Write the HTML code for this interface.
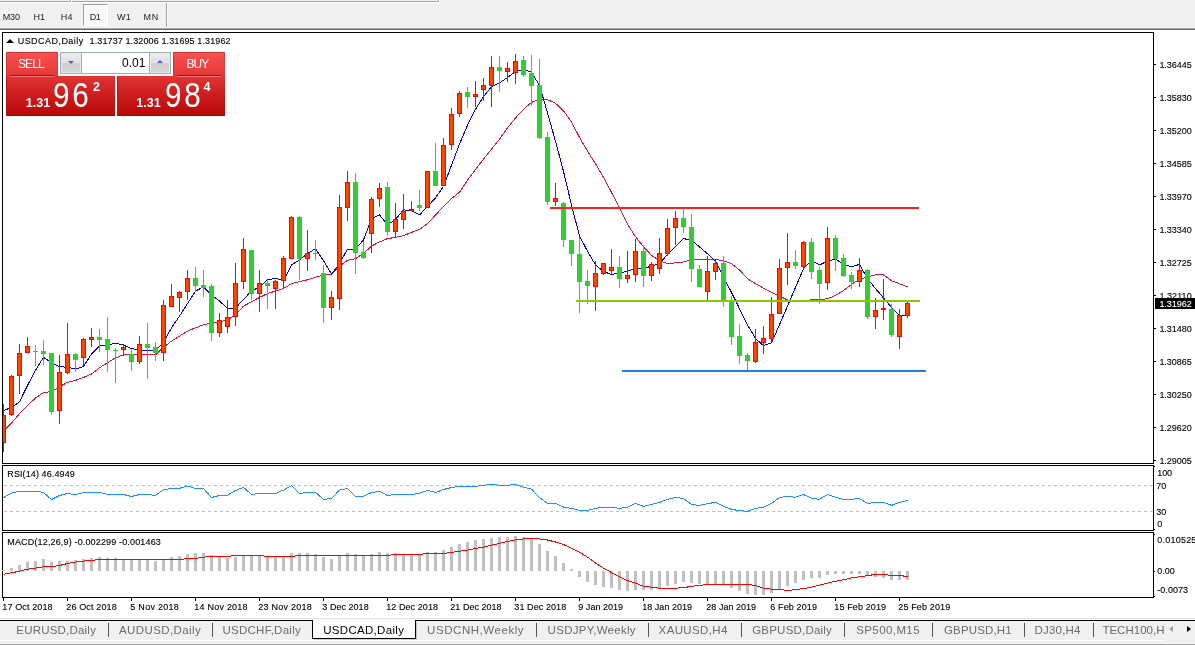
<!DOCTYPE html>
<html><head><meta charset="utf-8"><title>USDCAD,Daily</title>
<style>
html,body{margin:0;padding:0;background:#fff;}
body{width:1195px;height:645px;overflow:hidden;position:relative;font-family:"Liberation Sans",sans-serif;}
.abs{position:absolute;white-space:nowrap;line-height:1;}
#tb{position:absolute;left:0;top:0;width:1195px;height:28px;background:#f0f0f0;}
.t{position:absolute;white-space:nowrap;line-height:1;font-size:9px;color:#000;-webkit-text-stroke:0.12px #000;}
.tf{position:absolute;white-space:nowrap;line-height:1;font-size:9px;color:#222;}
.tab{position:absolute;white-space:nowrap;line-height:1;font-size:11.5px;color:#6a6a6a;}
.sep{position:absolute;width:1px;height:14px;top:623px;background:#555;}
svg{position:absolute;left:0;top:0;}
</style></head><body>
<div id="tb"></div>
<div class="abs" style="left:0;top:27px;width:1195px;height:1px;background:#f4f4f4"></div>
<div class="abs" style="left:0;top:28px;width:1195px;height:1px;background:#a8a8a8"></div>
<div class="abs" style="left:0;top:29px;width:1195px;height:1px;background:#696969"></div>
<div class="abs" style="left:0;top:1px;width:439px;height:1px;background:#a0a0a0"></div>
<div class="abs" style="left:0;top:2px;width:440px;height:1px;background:#fff"></div>
<div class="abs" style="left:438px;top:0;width:1px;height:2px;background:#a0a0a0"></div>
<div class="abs" style="left:439px;top:0;width:1px;height:3px;background:#fff"></div>
<div class="abs" style="left:70px;top:0;width:1px;height:2px;background:#a0a0a0"></div>
<div class="abs" style="left:71px;top:0;width:1px;height:2px;background:#fff"></div>
<div class="abs" style="left:83px;top:4px;width:25px;height:22px;background:#f8f8f8;border-left:1px solid #a0a0a0;border-top:1px solid #a0a0a0;border-right:1px solid #fff;border-bottom:1px solid #fff;box-sizing:border-box"></div>
<div class="abs" style="left:166px;top:3px;width:1px;height:24px;background:#a0a0a0"></div>
<div class="abs" style="left:167px;top:3px;width:1px;height:24px;background:#fff"></div>
<div class="tf" id="x1" style="left:2.7px;top:12.5px;letter-spacing:-0.086px;">M30</div>
<div class="tf" id="x2" style="left:33.6px;top:12.5px;letter-spacing:-0.144px;">H1</div>
<div class="tf" id="x3" style="left:60.7px;top:12.5px;letter-spacing:0.390px;">H4</div>
<div class="tf" id="x4" style="left:89.7px;top:12.5px;letter-spacing:-0.344px;">D1</div>
<div class="tf" id="x5" style="left:117px;top:12.5px;letter-spacing:0.333px;">W1</div>
<div class="tf" id="x6" style="left:143.5px;top:12.5px;letter-spacing:0.800px;">MN</div>
<svg width="1195" height="645" viewBox="0 0 1195 645" shape-rendering="crispEdges">
<rect x="2" y="32" width="1152" height="1" fill="#000"/>
<rect x="2" y="463" width="1152" height="1" fill="#000"/>
<rect x="2" y="32" width="1" height="432" fill="#000"/>
<rect x="1153" y="32" width="1" height="432" fill="#000"/>
<rect x="2" y="465" width="1152" height="1" fill="#000"/>
<rect x="2" y="530" width="1152" height="1" fill="#000"/>
<rect x="2" y="465" width="1" height="66" fill="#000"/>
<rect x="1153" y="465" width="1" height="66" fill="#000"/>
<rect x="2" y="532" width="1152" height="1" fill="#000"/>
<rect x="2" y="597" width="1152" height="1" fill="#000"/>
<rect x="2" y="532" width="1" height="66" fill="#000"/>
<rect x="1153" y="532" width="1" height="66" fill="#000"/>
<rect x="1154" y="64" width="2" height="1" fill="#000"/>
<rect x="1154" y="97" width="2" height="1" fill="#000"/>
<rect x="1154" y="130" width="2" height="1" fill="#000"/>
<rect x="1154" y="163" width="2" height="1" fill="#000"/>
<rect x="1154" y="196" width="2" height="1" fill="#000"/>
<rect x="1154" y="229" width="2" height="1" fill="#000"/>
<rect x="1154" y="262" width="2" height="1" fill="#000"/>
<rect x="1154" y="295" width="2" height="1" fill="#000"/>
<rect x="1154" y="328" width="2" height="1" fill="#000"/>
<rect x="1154" y="361" width="2" height="1" fill="#000"/>
<rect x="1154" y="394" width="2" height="1" fill="#000"/>
<rect x="1154" y="427" width="2" height="1" fill="#000"/>
<rect x="1154" y="460" width="2" height="1" fill="#000"/>
<rect x="1154" y="466" width="1" height="1" fill="#000"/>
<rect x="1154" y="529" width="1" height="1" fill="#000"/>
<rect x="1154" y="534" width="1" height="1" fill="#000"/>
<rect x="1154" y="571" width="1" height="1" fill="#000"/>
<rect x="1154" y="596" width="1" height="1" fill="#000"/>
<rect x="3" y="598" width="1" height="3" fill="#000"/>
<rect x="67" y="598" width="1" height="3" fill="#000"/>
<rect x="131" y="598" width="1" height="3" fill="#000"/>
<rect x="195" y="598" width="1" height="3" fill="#000"/>
<rect x="259" y="598" width="1" height="3" fill="#000"/>
<rect x="323" y="598" width="1" height="3" fill="#000"/>
<rect x="387" y="598" width="1" height="3" fill="#000"/>
<rect x="451" y="598" width="1" height="3" fill="#000"/>
<rect x="515" y="598" width="1" height="3" fill="#000"/>
<rect x="579" y="598" width="1" height="3" fill="#000"/>
<rect x="643" y="598" width="1" height="3" fill="#000"/>
<rect x="707" y="598" width="1" height="3" fill="#000"/>
<rect x="771" y="598" width="1" height="3" fill="#000"/>
<rect x="835" y="598" width="1" height="3" fill="#000"/>
<rect x="899" y="598" width="1" height="3" fill="#000"/>
<line x1="4" y1="485.5" x2="1153" y2="485.5" stroke="#c0c0c0" stroke-width="1" stroke-dasharray="3,3"/>
<line x1="4" y1="511.5" x2="1153" y2="511.5" stroke="#c0c0c0" stroke-width="1" stroke-dasharray="3,3"/>
<polyline points="3.5,497.5 11.5,493.1 19.5,491.3 27.5,491.1 35.5,491.1 43.5,492.5 51.5,499.5 59.5,495.5 67.5,493.5 75.5,494.7 83.5,492.5 91.5,492.3 99.5,492.3 107.5,494.5 115.5,494.5 123.5,494.5 131.5,496.5 139.5,494.5 147.5,494.5 155.5,495.5 163.5,489.7 171.5,488.5 179.5,488.3 187.5,486.1 195.5,488.3 203.5,488.5 211.5,497.5 219.5,495.5 227.5,495.1 235.5,490.5 243.5,487.3 251.5,494.5 259.5,493.5 267.5,493.5 275.5,493.5 283.5,490.1 291.5,485.7 299.5,493.5 307.5,492.3 315.5,492.3 323.5,499.5 331.5,498.5 339.5,490.1 347.5,488.5 355.5,496.3 363.5,496.3 371.5,492.5 379.5,491.3 387.5,495.5 395.5,494.5 403.5,494.5 411.5,494.5 419.5,493.3 427.5,490.3 435.5,492.5 443.5,489.5 451.5,487.5 459.5,486.3 467.5,486.1 475.5,486.3 483.5,485.3 491.5,484.3 499.5,485.3 507.5,485.3 515.5,484.3 523.5,487.3 531.5,489.1 539.5,497.5 547.5,503.4 555.5,503.4 563.5,507.0 571.5,508.4 579.5,510.4 587.5,510.4 595.5,508.4 603.5,507.2 611.5,507.2 619.5,508.4 627.5,507.2 635.5,503.4 643.5,506.4 651.5,504.4 659.5,502.4 667.5,499.3 675.5,497.3 683.5,498.5 691.5,504.4 699.5,505.4 707.5,503.6 715.5,502.4 723.5,506.4 731.5,509.4 739.5,510.6 747.5,511.4 755.5,508.4 763.5,507.2 771.5,503.4 779.5,497.5 787.5,496.3 795.5,497.3 803.5,494.5 811.5,498.3 819.5,499.3 827.5,494.5 835.5,497.3 843.5,499.3 851.5,499.3 859.5,498.5 867.5,503.4 875.5,502.4 883.5,502.4 891.5,505.4 899.5,502.4 907.5,500.3" fill="none" stroke="#1e90ff" stroke-width="1" stroke-linejoin="round" shape-rendering="crispEdges"/>
<rect x="2" y="570" width="3" height="1" fill="#c0c0c0"/>
<rect x="10" y="568" width="3" height="3" fill="#c0c0c0"/>
<rect x="18" y="565" width="3" height="6" fill="#c0c0c0"/>
<rect x="26" y="562" width="3" height="9" fill="#c0c0c0"/>
<rect x="34" y="561" width="3" height="10" fill="#c0c0c0"/>
<rect x="42" y="559" width="3" height="12" fill="#c0c0c0"/>
<rect x="50" y="562" width="3" height="9" fill="#c0c0c0"/>
<rect x="58" y="561" width="3" height="10" fill="#c0c0c0"/>
<rect x="66" y="561" width="3" height="10" fill="#c0c0c0"/>
<rect x="74" y="560" width="3" height="11" fill="#c0c0c0"/>
<rect x="82" y="559" width="3" height="12" fill="#c0c0c0"/>
<rect x="90" y="558" width="3" height="13" fill="#c0c0c0"/>
<rect x="98" y="557" width="3" height="14" fill="#c0c0c0"/>
<rect x="106" y="558" width="3" height="13" fill="#c0c0c0"/>
<rect x="114" y="558" width="3" height="13" fill="#c0c0c0"/>
<rect x="122" y="559" width="3" height="12" fill="#c0c0c0"/>
<rect x="130" y="559" width="3" height="12" fill="#c0c0c0"/>
<rect x="138" y="559" width="3" height="12" fill="#c0c0c0"/>
<rect x="146" y="559" width="3" height="12" fill="#c0c0c0"/>
<rect x="154" y="561" width="3" height="10" fill="#c0c0c0"/>
<rect x="162" y="559" width="3" height="12" fill="#c0c0c0"/>
<rect x="170" y="557" width="3" height="14" fill="#c0c0c0"/>
<rect x="178" y="556" width="3" height="15" fill="#c0c0c0"/>
<rect x="186" y="554" width="3" height="17" fill="#c0c0c0"/>
<rect x="194" y="553" width="3" height="18" fill="#c0c0c0"/>
<rect x="202" y="553" width="3" height="18" fill="#c0c0c0"/>
<rect x="210" y="555" width="3" height="16" fill="#c0c0c0"/>
<rect x="218" y="556" width="3" height="15" fill="#c0c0c0"/>
<rect x="226" y="558" width="3" height="13" fill="#c0c0c0"/>
<rect x="234" y="557" width="3" height="14" fill="#c0c0c0"/>
<rect x="242" y="556" width="3" height="15" fill="#c0c0c0"/>
<rect x="250" y="556" width="3" height="15" fill="#c0c0c0"/>
<rect x="258" y="556" width="3" height="15" fill="#c0c0c0"/>
<rect x="266" y="557" width="3" height="14" fill="#c0c0c0"/>
<rect x="274" y="557" width="3" height="14" fill="#c0c0c0"/>
<rect x="282" y="557" width="3" height="14" fill="#c0c0c0"/>
<rect x="290" y="553" width="3" height="18" fill="#c0c0c0"/>
<rect x="298" y="553" width="3" height="18" fill="#c0c0c0"/>
<rect x="306" y="553" width="3" height="18" fill="#c0c0c0"/>
<rect x="314" y="554" width="3" height="17" fill="#c0c0c0"/>
<rect x="322" y="557" width="3" height="14" fill="#c0c0c0"/>
<rect x="330" y="559" width="3" height="12" fill="#c0c0c0"/>
<rect x="338" y="556" width="3" height="15" fill="#c0c0c0"/>
<rect x="346" y="553" width="3" height="18" fill="#c0c0c0"/>
<rect x="354" y="554" width="3" height="17" fill="#c0c0c0"/>
<rect x="362" y="555" width="3" height="16" fill="#c0c0c0"/>
<rect x="370" y="554" width="3" height="17" fill="#c0c0c0"/>
<rect x="378" y="552" width="3" height="19" fill="#c0c0c0"/>
<rect x="386" y="553" width="3" height="18" fill="#c0c0c0"/>
<rect x="394" y="553" width="3" height="18" fill="#c0c0c0"/>
<rect x="402" y="554" width="3" height="17" fill="#c0c0c0"/>
<rect x="410" y="554" width="3" height="17" fill="#c0c0c0"/>
<rect x="418" y="554" width="3" height="17" fill="#c0c0c0"/>
<rect x="426" y="552" width="3" height="19" fill="#c0c0c0"/>
<rect x="434" y="552" width="3" height="19" fill="#c0c0c0"/>
<rect x="442" y="550" width="3" height="21" fill="#c0c0c0"/>
<rect x="450" y="547" width="3" height="24" fill="#c0c0c0"/>
<rect x="458" y="544" width="3" height="27" fill="#c0c0c0"/>
<rect x="466" y="542" width="3" height="29" fill="#c0c0c0"/>
<rect x="474" y="540" width="3" height="31" fill="#c0c0c0"/>
<rect x="482" y="539" width="3" height="32" fill="#c0c0c0"/>
<rect x="490" y="538" width="3" height="33" fill="#c0c0c0"/>
<rect x="498" y="537" width="3" height="34" fill="#c0c0c0"/>
<rect x="506" y="537" width="3" height="34" fill="#c0c0c0"/>
<rect x="514" y="536" width="3" height="35" fill="#c0c0c0"/>
<rect x="522" y="537" width="3" height="34" fill="#c0c0c0"/>
<rect x="530" y="539" width="3" height="32" fill="#c0c0c0"/>
<rect x="538" y="544" width="3" height="27" fill="#c0c0c0"/>
<rect x="546" y="551" width="3" height="20" fill="#c0c0c0"/>
<rect x="554" y="556" width="3" height="15" fill="#c0c0c0"/>
<rect x="562" y="563" width="3" height="8" fill="#c0c0c0"/>
<rect x="570" y="569" width="3" height="2" fill="#c0c0c0"/>
<rect x="578" y="571" width="3" height="6" fill="#c0c0c0"/>
<rect x="586" y="571" width="3" height="11" fill="#c0c0c0"/>
<rect x="594" y="571" width="3" height="14" fill="#c0c0c0"/>
<rect x="602" y="571" width="3" height="16" fill="#c0c0c0"/>
<rect x="610" y="571" width="3" height="17" fill="#c0c0c0"/>
<rect x="618" y="571" width="3" height="19" fill="#c0c0c0"/>
<rect x="626" y="571" width="3" height="20" fill="#c0c0c0"/>
<rect x="634" y="571" width="3" height="19" fill="#c0c0c0"/>
<rect x="642" y="571" width="3" height="19" fill="#c0c0c0"/>
<rect x="650" y="571" width="3" height="19" fill="#c0c0c0"/>
<rect x="658" y="571" width="3" height="17" fill="#c0c0c0"/>
<rect x="666" y="571" width="3" height="15" fill="#c0c0c0"/>
<rect x="674" y="571" width="3" height="13" fill="#c0c0c0"/>
<rect x="682" y="571" width="3" height="11" fill="#c0c0c0"/>
<rect x="690" y="571" width="3" height="12" fill="#c0c0c0"/>
<rect x="698" y="571" width="3" height="13" fill="#c0c0c0"/>
<rect x="706" y="571" width="3" height="13" fill="#c0c0c0"/>
<rect x="714" y="571" width="3" height="13" fill="#c0c0c0"/>
<rect x="722" y="571" width="3" height="14" fill="#c0c0c0"/>
<rect x="730" y="571" width="3" height="17" fill="#c0c0c0"/>
<rect x="738" y="571" width="3" height="20" fill="#c0c0c0"/>
<rect x="746" y="571" width="3" height="23" fill="#c0c0c0"/>
<rect x="754" y="571" width="3" height="24" fill="#c0c0c0"/>
<rect x="762" y="571" width="3" height="24" fill="#c0c0c0"/>
<rect x="770" y="571" width="3" height="22" fill="#c0c0c0"/>
<rect x="778" y="571" width="3" height="19" fill="#c0c0c0"/>
<rect x="786" y="571" width="3" height="15" fill="#c0c0c0"/>
<rect x="794" y="571" width="3" height="12" fill="#c0c0c0"/>
<rect x="802" y="571" width="3" height="9" fill="#c0c0c0"/>
<rect x="810" y="571" width="3" height="7" fill="#c0c0c0"/>
<rect x="818" y="571" width="3" height="7" fill="#c0c0c0"/>
<rect x="826" y="571" width="3" height="4" fill="#c0c0c0"/>
<rect x="834" y="571" width="3" height="3" fill="#c0c0c0"/>
<rect x="842" y="571" width="3" height="3" fill="#c0c0c0"/>
<rect x="850" y="571" width="3" height="3" fill="#c0c0c0"/>
<rect x="858" y="571" width="3" height="3" fill="#c0c0c0"/>
<rect x="866" y="571" width="3" height="5" fill="#c0c0c0"/>
<rect x="874" y="571" width="3" height="6" fill="#c0c0c0"/>
<rect x="882" y="571" width="3" height="7" fill="#c0c0c0"/>
<rect x="890" y="571" width="3" height="9" fill="#c0c0c0"/>
<rect x="898" y="571" width="3" height="9" fill="#c0c0c0"/>
<rect x="906" y="571" width="3" height="9" fill="#c0c0c0"/>
<polyline points="3.5,574.2 11.5,572.8 19.5,571.2 27.5,569.2 35.5,568.1 43.5,566.7 51.5,566.7 59.5,565.5 67.5,563.5 75.5,562.1 83.5,561.1 91.5,560.3 99.5,559.7 107.5,559.7 115.5,559.7 123.5,559.7 131.5,559.7 139.5,559.7 147.5,559.7 155.5,559.7 163.5,559.7 171.5,559.7 179.5,559.7 187.5,558.5 195.5,558.5 203.5,557.1 211.5,556.5 219.5,556.5 227.5,556.5 235.5,555.5 243.5,555.5 251.5,555.5 259.5,555.5 267.5,556.5 275.5,556.5 283.5,556.5 291.5,556.5 299.5,555.5 307.5,555.5 315.5,555.5 323.5,555.5 331.5,555.5 339.5,555.5 347.5,555.5 355.5,555.5 363.5,555.5 371.5,555.5 379.5,555.5 387.5,555.5 395.5,554.5 403.5,554.5 411.5,554.5 419.5,554.5 427.5,553.5 435.5,553.5 443.5,553.5 451.5,552.3 459.5,551.3 467.5,550.1 475.5,548.5 483.5,547.1 491.5,545.1 499.5,543.4 507.5,541.4 515.5,540.0 523.5,539.0 531.5,538.4 539.5,539.0 547.5,540.0 555.5,542.0 563.5,544.5 571.5,548.1 579.5,552.1 587.5,557.1 595.5,563.1 603.5,568.1 611.5,572.6 619.5,576.6 627.5,580.6 635.5,583.2 643.5,586.2 651.5,587.2 659.5,588.2 667.5,588.2 675.5,588.2 683.5,587.6 691.5,586.4 699.5,585.2 707.5,584.8 715.5,584.2 723.5,584.2 731.5,584.2 739.5,584.2 747.5,584.2 755.5,585.6 763.5,588.2 771.5,589.2 779.5,589.2 787.5,590.6 795.5,589.6 803.5,588.6 811.5,587.2 819.5,585.2 827.5,583.2 835.5,581.2 843.5,579.8 851.5,577.8 859.5,576.8 867.5,575.6 875.5,574.4 883.5,574.4 891.5,575.4 899.5,575.4 907.5,576.6" fill="none" stroke="#ff0000" stroke-width="1" stroke-linejoin="round" shape-rendering="crispEdges"/>
<polyline points="3.5,430.7 11.5,423.1 19.5,413.6 27.5,405.5 35.5,398.0 43.5,392.5 51.5,391.7 59.5,386.7 67.5,382.4 75.5,380.4 83.5,377.4 91.5,374.1 99.5,367.8 107.5,362.8 115.5,357.8 123.5,354.8 131.5,354.0 139.5,354.0 147.5,354.4 155.5,354.8 163.5,347.3 171.5,341.1 179.5,336.1 187.5,331.1 195.5,327.8 203.5,324.8 211.5,323.1 219.5,321.8 227.5,319.9 235.5,314.9 243.5,306.1 251.5,301.9 259.5,297.4 267.5,293.6 275.5,291.1 283.5,288.4 291.5,283.8 299.5,281.6 307.5,279.8 315.5,277.3 323.5,274.8 331.5,274.1 339.5,266.1 347.5,260.4 355.5,258.6 363.5,253.6 371.5,246.1 379.5,241.9 387.5,238.6 395.5,237.4 403.5,235.6 411.5,232.4 419.5,229.4 427.5,223.7 435.5,215.0 443.5,206.5 451.5,198.5 459.5,192.3 467.5,180.3 475.5,169.6 483.5,159.1 491.5,149.1 499.5,139.1 507.5,127.9 515.5,117.9 523.5,109.2 531.5,102.4 539.5,99.2 547.5,99.6 555.5,103.3 563.5,110.8 571.5,122.0 579.5,137.4 587.5,151.2 595.5,163.7 603.5,177.4 611.5,192.4 619.5,208.0 627.5,224.2 635.5,236.7 643.5,246.7 651.5,255.4 659.5,260.5 667.5,263.6 675.5,262.9 683.5,261.9 691.5,259.7 699.5,259.6 707.5,259.4 715.5,259.4 723.5,260.7 731.5,263.7 739.5,269.9 747.5,278.7 755.5,283.6 763.5,288.1 771.5,292.4 779.5,296.1 787.5,299.9 795.5,301.9 803.5,300.4 811.5,299.9 819.5,299.9 827.5,298.6 835.5,295.5 843.5,290.6 851.5,284.4 859.5,279.2 867.5,276.9 875.5,274.9 883.5,274.9 891.5,280.7 899.5,283.7 907.5,286.9" fill="none" stroke="#dc143c" stroke-width="1" stroke-linejoin="round" shape-rendering="crispEdges"/>
<polyline points="3.5,410.5 11.5,407.5 19.5,401.8 27.5,385.4 35.5,370.4 43.5,357.3 51.5,362.8 59.5,366.6 67.5,367.3 75.5,369.0 83.5,366.6 91.5,354.0 99.5,346.0 107.5,345.2 115.5,343.2 123.5,345.2 131.5,348.5 139.5,350.3 147.5,350.3 155.5,350.3 163.5,342.3 171.5,327.8 179.5,316.1 187.5,303.6 195.5,291.1 203.5,286.9 211.5,294.9 219.5,301.1 227.5,308.1 235.5,308.1 243.5,299.4 251.5,291.1 259.5,286.9 267.5,279.9 275.5,278.2 283.5,280.5 291.5,264.9 299.5,259.9 307.5,253.6 315.5,248.6 323.5,260.6 331.5,274.1 339.5,263.6 347.5,249.1 355.5,249.1 363.5,239.9 371.5,218.7 379.5,214.9 387.5,224.9 395.5,219.4 403.5,209.9 411.5,210.7 419.5,214.9 427.5,206.6 435.5,197.8 443.5,186.5 451.5,165.3 459.5,144.1 467.5,125.4 475.5,109.2 483.5,96.7 491.5,86.7 499.5,82.9 507.5,77.5 515.5,71.7 523.5,69.2 531.5,72.2 539.5,85.4 547.5,112.9 555.5,141.4 563.5,171.3 571.5,204.9 579.5,236.1 587.5,251.2 595.5,264.9 603.5,271.6 611.5,274.4 619.5,273.1 627.5,271.1 635.5,268.6 643.5,268.6 651.5,266.1 659.5,263.6 667.5,254.4 675.5,246.2 683.5,238.7 691.5,239.9 699.5,247.0 707.5,253.7 715.5,261.2 723.5,277.4 731.5,292.4 739.5,308.6 747.5,324.8 755.5,338.6 763.5,345.6 771.5,342.8 779.5,324.8 787.5,306.1 795.5,287.4 803.5,268.7 811.5,260.7 819.5,264.9 827.5,261.2 835.5,259.0 843.5,264.4 851.5,266.9 859.5,264.4 867.5,278.7 875.5,288.6 883.5,297.9 891.5,307.4 899.5,315.6 907.5,314.9" fill="none" stroke="#0000dd" stroke-width="1" stroke-linejoin="round" shape-rendering="crispEdges"/>
<rect x="3" y="404" width="1" height="48" fill="#ff0000"/>
<rect x="1" y="415" width="5" height="28" fill="#ff0000"/>
<rect x="2" y="416" width="3" height="26" fill="#ff4500"/>
<rect x="11" y="375" width="1" height="41" fill="#ff0000"/>
<rect x="9" y="376" width="5" height="39" fill="#ff0000"/>
<rect x="10" y="377" width="3" height="37" fill="#ff4500"/>
<rect x="19" y="344" width="1" height="50" fill="#ff0000"/>
<rect x="17" y="353" width="5" height="23" fill="#ff0000"/>
<rect x="18" y="354" width="3" height="21" fill="#ff4500"/>
<rect x="27" y="337" width="1" height="16" fill="#ff0000"/>
<rect x="25" y="346" width="5" height="7" fill="#ff0000"/>
<rect x="26" y="347" width="3" height="5" fill="#ff4500"/>
<rect x="35" y="345" width="1" height="21" fill="#32cd32"/>
<rect x="33" y="351" width="5" height="1" fill="#32cd32"/>
<rect x="43" y="340" width="1" height="25" fill="#32cd32"/>
<rect x="41" y="351" width="5" height="3" fill="#32cd32"/>
<rect x="51" y="353" width="1" height="62" fill="#32cd32"/>
<rect x="49" y="353" width="5" height="59" fill="#32cd32"/>
<rect x="59" y="355" width="1" height="69" fill="#ff0000"/>
<rect x="57" y="372" width="5" height="39" fill="#ff0000"/>
<rect x="58" y="373" width="3" height="37" fill="#ff4500"/>
<rect x="67" y="323" width="1" height="51" fill="#ff0000"/>
<rect x="65" y="354" width="5" height="19" fill="#ff0000"/>
<rect x="66" y="355" width="3" height="17" fill="#ff4500"/>
<rect x="75" y="353" width="1" height="19" fill="#32cd32"/>
<rect x="73" y="354" width="5" height="6" fill="#32cd32"/>
<rect x="83" y="338" width="1" height="28" fill="#ff0000"/>
<rect x="81" y="339" width="5" height="19" fill="#ff0000"/>
<rect x="82" y="340" width="3" height="17" fill="#ff4500"/>
<rect x="91" y="328" width="1" height="19" fill="#ff0000"/>
<rect x="89" y="337" width="5" height="3" fill="#ff0000"/>
<rect x="90" y="338" width="3" height="1" fill="#ff4500"/>
<rect x="99" y="329" width="1" height="23" fill="#32cd32"/>
<rect x="97" y="337" width="5" height="3" fill="#32cd32"/>
<rect x="107" y="317" width="1" height="55" fill="#32cd32"/>
<rect x="105" y="339" width="5" height="11" fill="#32cd32"/>
<rect x="115" y="348" width="1" height="35" fill="#32cd32"/>
<rect x="113" y="350" width="5" height="1" fill="#32cd32"/>
<rect x="123" y="344" width="1" height="12" fill="#ff0000"/>
<rect x="121" y="347" width="5" height="3" fill="#ff0000"/>
<rect x="122" y="348" width="3" height="1" fill="#ff4500"/>
<rect x="131" y="349" width="1" height="22" fill="#32cd32"/>
<rect x="129" y="354" width="5" height="8" fill="#32cd32"/>
<rect x="139" y="336" width="1" height="28" fill="#ff0000"/>
<rect x="137" y="344" width="5" height="18" fill="#ff0000"/>
<rect x="138" y="345" width="3" height="16" fill="#ff4500"/>
<rect x="147" y="323" width="1" height="56" fill="#32cd32"/>
<rect x="145" y="344" width="5" height="4" fill="#32cd32"/>
<rect x="155" y="342" width="1" height="19" fill="#32cd32"/>
<rect x="153" y="347" width="5" height="6" fill="#32cd32"/>
<rect x="163" y="300" width="1" height="61" fill="#ff0000"/>
<rect x="161" y="305" width="5" height="48" fill="#ff0000"/>
<rect x="162" y="306" width="3" height="46" fill="#ff4500"/>
<rect x="171" y="284" width="1" height="23" fill="#ff0000"/>
<rect x="169" y="296" width="5" height="11" fill="#ff0000"/>
<rect x="170" y="297" width="3" height="9" fill="#ff4500"/>
<rect x="179" y="291" width="1" height="21" fill="#ff0000"/>
<rect x="177" y="292" width="5" height="6" fill="#ff0000"/>
<rect x="178" y="293" width="3" height="4" fill="#ff4500"/>
<rect x="187" y="270" width="1" height="30" fill="#ff0000"/>
<rect x="185" y="278" width="5" height="14" fill="#ff0000"/>
<rect x="186" y="279" width="3" height="12" fill="#ff4500"/>
<rect x="195" y="267" width="1" height="25" fill="#32cd32"/>
<rect x="193" y="278" width="5" height="8" fill="#32cd32"/>
<rect x="203" y="270" width="1" height="27" fill="#32cd32"/>
<rect x="201" y="285" width="5" height="3" fill="#32cd32"/>
<rect x="211" y="284" width="1" height="57" fill="#32cd32"/>
<rect x="209" y="286" width="5" height="47" fill="#32cd32"/>
<rect x="219" y="313" width="1" height="24" fill="#ff0000"/>
<rect x="217" y="320" width="5" height="13" fill="#ff0000"/>
<rect x="218" y="321" width="3" height="11" fill="#ff4500"/>
<rect x="227" y="300" width="1" height="33" fill="#ff0000"/>
<rect x="225" y="317" width="5" height="10" fill="#ff0000"/>
<rect x="226" y="318" width="3" height="8" fill="#ff4500"/>
<rect x="235" y="263" width="1" height="63" fill="#ff0000"/>
<rect x="233" y="283" width="5" height="34" fill="#ff0000"/>
<rect x="234" y="284" width="3" height="32" fill="#ff4500"/>
<rect x="243" y="238" width="1" height="51" fill="#ff0000"/>
<rect x="241" y="249" width="5" height="33" fill="#ff0000"/>
<rect x="242" y="250" width="3" height="31" fill="#ff4500"/>
<rect x="251" y="250" width="1" height="50" fill="#32cd32"/>
<rect x="249" y="250" width="5" height="44" fill="#32cd32"/>
<rect x="259" y="270" width="1" height="42" fill="#ff0000"/>
<rect x="257" y="283" width="5" height="11" fill="#ff0000"/>
<rect x="258" y="284" width="3" height="9" fill="#ff4500"/>
<rect x="267" y="280" width="1" height="29" fill="#32cd32"/>
<rect x="265" y="283" width="5" height="3" fill="#32cd32"/>
<rect x="275" y="280" width="1" height="29" fill="#ff0000"/>
<rect x="273" y="281" width="5" height="8" fill="#ff0000"/>
<rect x="274" y="282" width="3" height="6" fill="#ff4500"/>
<rect x="283" y="256" width="1" height="32" fill="#ff0000"/>
<rect x="281" y="258" width="5" height="23" fill="#ff0000"/>
<rect x="282" y="259" width="3" height="21" fill="#ff4500"/>
<rect x="291" y="216" width="1" height="43" fill="#ff0000"/>
<rect x="289" y="217" width="5" height="42" fill="#ff0000"/>
<rect x="290" y="218" width="3" height="40" fill="#ff4500"/>
<rect x="299" y="216" width="1" height="64" fill="#32cd32"/>
<rect x="297" y="217" width="5" height="42" fill="#32cd32"/>
<rect x="307" y="230" width="1" height="41" fill="#ff0000"/>
<rect x="305" y="253" width="5" height="6" fill="#ff0000"/>
<rect x="306" y="254" width="3" height="4" fill="#ff4500"/>
<rect x="315" y="240" width="1" height="20" fill="#32cd32"/>
<rect x="313" y="253" width="5" height="1" fill="#32cd32"/>
<rect x="323" y="265" width="1" height="58" fill="#32cd32"/>
<rect x="321" y="273" width="5" height="35" fill="#32cd32"/>
<rect x="331" y="291" width="1" height="29" fill="#ff0000"/>
<rect x="329" y="297" width="5" height="11" fill="#ff0000"/>
<rect x="330" y="298" width="3" height="9" fill="#ff4500"/>
<rect x="339" y="195" width="1" height="115" fill="#ff0000"/>
<rect x="337" y="207" width="5" height="92" fill="#ff0000"/>
<rect x="338" y="208" width="3" height="90" fill="#ff4500"/>
<rect x="347" y="171" width="1" height="50" fill="#ff0000"/>
<rect x="345" y="182" width="5" height="26" fill="#ff0000"/>
<rect x="346" y="183" width="3" height="24" fill="#ff4500"/>
<rect x="355" y="173" width="1" height="101" fill="#32cd32"/>
<rect x="353" y="182" width="5" height="71" fill="#32cd32"/>
<rect x="363" y="241" width="1" height="18" fill="#32cd32"/>
<rect x="361" y="252" width="5" height="6" fill="#32cd32"/>
<rect x="371" y="197" width="1" height="56" fill="#ff0000"/>
<rect x="369" y="199" width="5" height="35" fill="#ff0000"/>
<rect x="370" y="200" width="3" height="33" fill="#ff4500"/>
<rect x="379" y="183" width="1" height="24" fill="#ff0000"/>
<rect x="377" y="188" width="5" height="11" fill="#ff0000"/>
<rect x="378" y="189" width="3" height="9" fill="#ff4500"/>
<rect x="387" y="182" width="1" height="54" fill="#32cd32"/>
<rect x="385" y="187" width="5" height="45" fill="#32cd32"/>
<rect x="395" y="203" width="1" height="35" fill="#ff0000"/>
<rect x="393" y="219" width="5" height="13" fill="#ff0000"/>
<rect x="394" y="220" width="3" height="11" fill="#ff4500"/>
<rect x="403" y="194" width="1" height="35" fill="#ff0000"/>
<rect x="401" y="211" width="5" height="9" fill="#ff0000"/>
<rect x="402" y="212" width="3" height="7" fill="#ff4500"/>
<rect x="411" y="201" width="1" height="10" fill="#ff0000"/>
<rect x="409" y="209" width="5" height="2" fill="#ff0000"/>
<rect x="419" y="190" width="1" height="21" fill="#32cd32"/>
<rect x="417" y="205" width="5" height="3" fill="#32cd32"/>
<rect x="427" y="171" width="1" height="37" fill="#ff0000"/>
<rect x="425" y="171" width="5" height="37" fill="#ff0000"/>
<rect x="426" y="172" width="3" height="35" fill="#ff4500"/>
<rect x="435" y="143" width="1" height="43" fill="#32cd32"/>
<rect x="433" y="171" width="5" height="15" fill="#32cd32"/>
<rect x="443" y="138" width="1" height="48" fill="#ff0000"/>
<rect x="441" y="145" width="5" height="41" fill="#ff0000"/>
<rect x="442" y="146" width="3" height="39" fill="#ff4500"/>
<rect x="451" y="108" width="1" height="42" fill="#ff0000"/>
<rect x="449" y="114" width="5" height="31" fill="#ff0000"/>
<rect x="450" y="115" width="3" height="29" fill="#ff4500"/>
<rect x="459" y="91" width="1" height="26" fill="#ff0000"/>
<rect x="457" y="93" width="5" height="21" fill="#ff0000"/>
<rect x="458" y="94" width="3" height="19" fill="#ff4500"/>
<rect x="467" y="87" width="1" height="21" fill="#32cd32"/>
<rect x="465" y="92" width="5" height="5" fill="#32cd32"/>
<rect x="475" y="81" width="1" height="26" fill="#ff0000"/>
<rect x="473" y="94" width="5" height="3" fill="#ff0000"/>
<rect x="474" y="95" width="3" height="1" fill="#ff4500"/>
<rect x="483" y="78" width="1" height="23" fill="#ff0000"/>
<rect x="481" y="85" width="5" height="5" fill="#ff0000"/>
<rect x="482" y="86" width="3" height="3" fill="#ff4500"/>
<rect x="491" y="56" width="1" height="51" fill="#ff0000"/>
<rect x="489" y="67" width="5" height="19" fill="#ff0000"/>
<rect x="490" y="68" width="3" height="17" fill="#ff4500"/>
<rect x="499" y="56" width="1" height="36" fill="#32cd32"/>
<rect x="497" y="67" width="5" height="4" fill="#32cd32"/>
<rect x="507" y="62" width="1" height="20" fill="#ff0000"/>
<rect x="505" y="68" width="5" height="4" fill="#ff0000"/>
<rect x="506" y="69" width="3" height="2" fill="#ff4500"/>
<rect x="515" y="54" width="1" height="30" fill="#ff0000"/>
<rect x="513" y="61" width="5" height="12" fill="#ff0000"/>
<rect x="514" y="62" width="3" height="10" fill="#ff4500"/>
<rect x="523" y="56" width="1" height="21" fill="#32cd32"/>
<rect x="521" y="60" width="5" height="15" fill="#32cd32"/>
<rect x="531" y="55" width="1" height="51" fill="#32cd32"/>
<rect x="529" y="73" width="5" height="13" fill="#32cd32"/>
<rect x="539" y="59" width="1" height="80" fill="#32cd32"/>
<rect x="537" y="85" width="5" height="53" fill="#32cd32"/>
<rect x="547" y="132" width="1" height="73" fill="#32cd32"/>
<rect x="545" y="137" width="5" height="65" fill="#32cd32"/>
<rect x="555" y="183" width="1" height="23" fill="#ff0000"/>
<rect x="553" y="198" width="5" height="4" fill="#ff0000"/>
<rect x="554" y="199" width="3" height="2" fill="#ff4500"/>
<rect x="563" y="202" width="1" height="45" fill="#32cd32"/>
<rect x="561" y="203" width="5" height="37" fill="#32cd32"/>
<rect x="571" y="240" width="1" height="26" fill="#32cd32"/>
<rect x="569" y="240" width="5" height="14" fill="#32cd32"/>
<rect x="579" y="237" width="1" height="76" fill="#32cd32"/>
<rect x="577" y="254" width="5" height="28" fill="#32cd32"/>
<rect x="587" y="270" width="1" height="34" fill="#32cd32"/>
<rect x="585" y="281" width="5" height="5" fill="#32cd32"/>
<rect x="595" y="261" width="1" height="50" fill="#ff0000"/>
<rect x="593" y="273" width="5" height="14" fill="#ff0000"/>
<rect x="594" y="274" width="3" height="12" fill="#ff4500"/>
<rect x="603" y="263" width="1" height="12" fill="#ff0000"/>
<rect x="601" y="263" width="5" height="11" fill="#ff0000"/>
<rect x="602" y="264" width="3" height="9" fill="#ff4500"/>
<rect x="611" y="249" width="1" height="25" fill="#ff0000"/>
<rect x="609" y="267" width="5" height="4" fill="#ff0000"/>
<rect x="610" y="268" width="3" height="2" fill="#ff4500"/>
<rect x="619" y="256" width="1" height="32" fill="#32cd32"/>
<rect x="617" y="267" width="5" height="12" fill="#32cd32"/>
<rect x="627" y="251" width="1" height="32" fill="#ff0000"/>
<rect x="625" y="275" width="5" height="4" fill="#ff0000"/>
<rect x="626" y="276" width="3" height="2" fill="#ff4500"/>
<rect x="635" y="239" width="1" height="43" fill="#ff0000"/>
<rect x="633" y="251" width="5" height="24" fill="#ff0000"/>
<rect x="634" y="252" width="3" height="22" fill="#ff4500"/>
<rect x="643" y="245" width="1" height="42" fill="#32cd32"/>
<rect x="641" y="251" width="5" height="25" fill="#32cd32"/>
<rect x="651" y="262" width="1" height="19" fill="#ff0000"/>
<rect x="649" y="264" width="5" height="12" fill="#ff0000"/>
<rect x="650" y="265" width="3" height="10" fill="#ff4500"/>
<rect x="659" y="238" width="1" height="36" fill="#ff0000"/>
<rect x="657" y="253" width="5" height="16" fill="#ff0000"/>
<rect x="658" y="254" width="3" height="14" fill="#ff4500"/>
<rect x="667" y="219" width="1" height="37" fill="#ff0000"/>
<rect x="665" y="228" width="5" height="26" fill="#ff0000"/>
<rect x="666" y="229" width="3" height="24" fill="#ff4500"/>
<rect x="675" y="211" width="1" height="34" fill="#ff0000"/>
<rect x="673" y="218" width="5" height="10" fill="#ff0000"/>
<rect x="674" y="219" width="3" height="8" fill="#ff4500"/>
<rect x="683" y="209" width="1" height="24" fill="#32cd32"/>
<rect x="681" y="218" width="5" height="9" fill="#32cd32"/>
<rect x="691" y="214" width="1" height="68" fill="#32cd32"/>
<rect x="689" y="227" width="5" height="42" fill="#32cd32"/>
<rect x="699" y="265" width="1" height="22" fill="#32cd32"/>
<rect x="697" y="269" width="5" height="18" fill="#32cd32"/>
<rect x="707" y="256" width="1" height="44" fill="#ff0000"/>
<rect x="705" y="271" width="5" height="21" fill="#ff0000"/>
<rect x="706" y="272" width="3" height="19" fill="#ff4500"/>
<rect x="715" y="259" width="1" height="21" fill="#ff0000"/>
<rect x="713" y="263" width="5" height="9" fill="#ff0000"/>
<rect x="714" y="264" width="3" height="7" fill="#ff4500"/>
<rect x="723" y="256" width="1" height="51" fill="#32cd32"/>
<rect x="721" y="263" width="5" height="38" fill="#32cd32"/>
<rect x="731" y="296" width="1" height="49" fill="#32cd32"/>
<rect x="729" y="301" width="5" height="36" fill="#32cd32"/>
<rect x="739" y="324" width="1" height="40" fill="#32cd32"/>
<rect x="737" y="336" width="5" height="20" fill="#32cd32"/>
<rect x="747" y="353" width="1" height="17" fill="#32cd32"/>
<rect x="745" y="355" width="5" height="6" fill="#32cd32"/>
<rect x="755" y="329" width="1" height="34" fill="#ff0000"/>
<rect x="753" y="342" width="5" height="20" fill="#ff0000"/>
<rect x="754" y="343" width="3" height="18" fill="#ff4500"/>
<rect x="763" y="326" width="1" height="28" fill="#ff0000"/>
<rect x="761" y="338" width="5" height="5" fill="#ff0000"/>
<rect x="762" y="339" width="3" height="3" fill="#ff4500"/>
<rect x="771" y="297" width="1" height="45" fill="#ff0000"/>
<rect x="769" y="314" width="5" height="25" fill="#ff0000"/>
<rect x="770" y="315" width="3" height="23" fill="#ff4500"/>
<rect x="779" y="259" width="1" height="55" fill="#ff0000"/>
<rect x="777" y="268" width="5" height="46" fill="#ff0000"/>
<rect x="778" y="269" width="3" height="44" fill="#ff4500"/>
<rect x="787" y="233" width="1" height="52" fill="#ff0000"/>
<rect x="785" y="262" width="5" height="6" fill="#ff0000"/>
<rect x="786" y="263" width="3" height="4" fill="#ff4500"/>
<rect x="795" y="250" width="1" height="19" fill="#32cd32"/>
<rect x="793" y="262" width="5" height="4" fill="#32cd32"/>
<rect x="803" y="241" width="1" height="28" fill="#ff0000"/>
<rect x="801" y="242" width="5" height="25" fill="#ff0000"/>
<rect x="802" y="243" width="3" height="23" fill="#ff4500"/>
<rect x="811" y="238" width="1" height="41" fill="#32cd32"/>
<rect x="809" y="242" width="5" height="30" fill="#32cd32"/>
<rect x="819" y="267" width="1" height="37" fill="#32cd32"/>
<rect x="817" y="270" width="5" height="14" fill="#32cd32"/>
<rect x="827" y="227" width="1" height="63" fill="#ff0000"/>
<rect x="825" y="238" width="5" height="45" fill="#ff0000"/>
<rect x="826" y="239" width="3" height="43" fill="#ff4500"/>
<rect x="835" y="235" width="1" height="36" fill="#32cd32"/>
<rect x="833" y="238" width="5" height="21" fill="#32cd32"/>
<rect x="843" y="254" width="1" height="23" fill="#32cd32"/>
<rect x="841" y="258" width="5" height="18" fill="#32cd32"/>
<rect x="851" y="272" width="1" height="17" fill="#32cd32"/>
<rect x="849" y="275" width="5" height="7" fill="#32cd32"/>
<rect x="859" y="258" width="1" height="29" fill="#ff0000"/>
<rect x="857" y="270" width="5" height="12" fill="#ff0000"/>
<rect x="858" y="271" width="3" height="10" fill="#ff4500"/>
<rect x="867" y="269" width="1" height="50" fill="#32cd32"/>
<rect x="865" y="270" width="5" height="47" fill="#32cd32"/>
<rect x="875" y="298" width="1" height="31" fill="#ff0000"/>
<rect x="873" y="310" width="5" height="7" fill="#ff0000"/>
<rect x="874" y="311" width="3" height="5" fill="#ff4500"/>
<rect x="883" y="279" width="1" height="41" fill="#ff0000"/>
<rect x="881" y="308" width="5" height="2" fill="#ff0000"/>
<rect x="891" y="304" width="1" height="33" fill="#32cd32"/>
<rect x="889" y="309" width="5" height="26" fill="#32cd32"/>
<rect x="899" y="309" width="1" height="40" fill="#ff0000"/>
<rect x="897" y="315" width="5" height="22" fill="#ff0000"/>
<rect x="898" y="316" width="3" height="20" fill="#ff4500"/>
<rect x="907" y="301" width="1" height="17" fill="#ff0000"/>
<rect x="905" y="303" width="5" height="13" fill="#ff0000"/>
<rect x="906" y="304" width="3" height="11" fill="#ff4500"/>
<rect x="550" y="207" width="369" height="2" fill="#ff2020"/>
<rect x="576" y="300" width="344" height="2" fill="#8cc800"/>
<rect x="622" y="370" width="304" height="2" fill="#1e82dc"/>
<rect x="0" y="33" width="2" height="430" fill="#fff"/>
<rect x="2" y="32" width="1" height="432" fill="#000"/>
</svg>
<div class="abs" style="left:6px;top:39px;width:0;height:0;border-left:4px solid transparent;border-right:4px solid transparent;border-bottom:4px solid #000"></div>
<div class="t" id="x7" style="left:17.7px;top:37px;letter-spacing:0.460px;">USDCAD,Daily</div>
<div class="t" id="x8" style="left:89.6px;top:37px;letter-spacing:0.110px;">1.31737 1.32006 1.31695 1.31962</div>
<div class="t" id="x9" style="left:1159.4px;top:61px;letter-spacing:-0.038px;">1.36445</div>
<div class="t" id="x10" style="left:1159.4px;top:94px;letter-spacing:-0.038px;">1.35830</div>
<div class="t" id="x11" style="left:1159.4px;top:127px;letter-spacing:-0.038px;">1.35200</div>
<div class="t" id="x12" style="left:1159.4px;top:160px;letter-spacing:-0.038px;">1.34585</div>
<div class="t" id="x13" style="left:1159.4px;top:193px;letter-spacing:-0.038px;">1.33970</div>
<div class="t" id="x14" style="left:1159.4px;top:226px;letter-spacing:-0.038px;">1.33340</div>
<div class="t" id="x15" style="left:1159.4px;top:259px;letter-spacing:-0.038px;">1.32725</div>
<div class="t" id="x16" style="left:1159.4px;top:292px;letter-spacing:0.065px;">1.32110</div>
<div class="t" id="x17" style="left:1159.4px;top:325px;letter-spacing:-0.038px;">1.31480</div>
<div class="t" id="x18" style="left:1159.4px;top:358px;letter-spacing:-0.038px;">1.30865</div>
<div class="t" id="x19" style="left:1159.4px;top:391px;letter-spacing:-0.038px;">1.30250</div>
<div class="t" id="x20" style="left:1159.4px;top:424px;letter-spacing:-0.038px;">1.29620</div>
<div class="t" id="x21" style="left:1159.4px;top:457px;letter-spacing:-0.038px;">1.29005</div>
<div class="abs" style="left:1155px;top:298px;width:40px;height:11px;background:#000"></div>
<div class="t" id="x22" style="left:1159.4px;top:299.5px;letter-spacing:-0.038px;color:#fff;-webkit-text-stroke:0.12px #fff;">1.31962</div>
<div class="t" id="x23" style="left:7.3px;top:469.7px;letter-spacing:0.100px;">RSI(14) 46.4949</div>
<div class="t" id="x24" style="left:1157.3px;top:469px;letter-spacing:-0.132px;">100</div>
<div class="t" id="x25" style="left:1156.3px;top:482px;letter-spacing:0.056px;">70</div>
<div class="t" id="x26" style="left:1156.3px;top:508px;letter-spacing:0.056px;">30</div>
<div class="t" id="x27" style="left:1157.3px;top:520px;">0</div>
<div class="t" id="x28" style="left:7.3px;top:537.6px;letter-spacing:0.154px;">MACD(12,26,9) -0.002299 -0.001463</div>
<div class="t" id="x29" style="left:1157.3px;top:536px;letter-spacing:0.220px;">0.010525</div>
<div class="t" id="x30" style="left:1157.3px;top:567px;letter-spacing:-0.009px;">0.00</div>
<div class="t" id="x31" style="left:1157.3px;top:586px;letter-spacing:0.026px;">-0.0073</div>
<div class="t" id="x32" style="left:2.3px;top:602.5px;letter-spacing:0.129px;">17 Oct 2018</div>
<div class="t" id="x33" style="left:66.3px;top:602.5px;letter-spacing:0.138px;">26 Oct 2018</div>
<div class="t" id="x34" style="left:130.3px;top:602.5px;letter-spacing:0.279px;">5 Nov 2018</div>
<div class="t" id="x35" style="left:194.3px;top:602.5px;letter-spacing:0.224px;">14 Nov 2018</div>
<div class="t" id="x36" style="left:258.3px;top:602.5px;letter-spacing:0.253px;">23 Nov 2018</div>
<div class="t" id="x37" style="left:322.3px;top:602.5px;letter-spacing:0.037px;">3 Dec 2018</div>
<div class="t" id="x38" style="left:386.3px;top:602.5px;letter-spacing:0.062px;">12 Dec 2018</div>
<div class="t" id="x39" style="left:450.3px;top:602.5px;letter-spacing:0.024px;">21 Dec 2018</div>
<div class="t" id="x40" style="left:514.3px;top:602.5px;letter-spacing:0.081px;">31 Dec 2018</div>
<div class="t" id="x41" style="left:578.3px;top:602.5px;letter-spacing:0.027px;">9 Jan 2019</div>
<div class="t" id="x42" style="left:642.3px;top:602.5px;letter-spacing:0.015px;">18 Jan 2019</div>
<div class="t" id="x43" style="left:706.3px;top:602.5px;letter-spacing:0.024px;">28 Jan 2019</div>
<div class="t" id="x44" style="left:770.3px;top:602.5px;letter-spacing:0.121px;">6 Feb 2019</div>
<div class="t" id="x45" style="left:834.3px;top:602.5px;letter-spacing:0.129px;">15 Feb 2019</div>
<div class="t" id="x46" style="left:898.3px;top:602.5px;letter-spacing:0.138px;">25 Feb 2019</div>
<style>
.rp{position:absolute;box-sizing:border-box;}
.rtab{background:linear-gradient(#fa5050,#e43838);border-top:1px solid #c83434;border-left:1px solid #c83434;border-right:1px solid #d84040;}
.rlow{background:linear-gradient(#e23434,#cc1c1c 50%,#b80808);border-left:1px solid #b41818;border-bottom:1px solid #a00808;}
.w{position:absolute;white-space:nowrap;line-height:1;color:#fff;}
.big{font-size:34.5px;transform-origin:left top;transform:scaleX(0.86);letter-spacing:3.2px;}
.sbtn{position:absolute;top:53px;width:20px;height:20px;box-sizing:border-box;background:linear-gradient(#ececec,#e0e0e0 48%,#cfcfcf 52%,#d6d6d6);border:1px solid #e8e8e8;}
</style>
<div class="rp" style="left:5px;top:51px;width:221px;height:66px;background:#fff"></div>
<div class="rp rtab" style="left:6px;top:52px;width:52px;height:24px"></div>
<div class="rp rtab" style="left:173px;top:52px;width:52px;height:24px"></div>
<div class="rp rlow" style="left:6px;top:76px;width:109px;height:40px"></div>
<div class="rp rlow" style="left:117px;top:76px;width:108px;height:40px"></div>
<div class="rp" style="left:10px;top:75px;width:44px;height:1px;background:#a01414"></div>
<div class="rp" style="left:10px;top:76px;width:44px;height:1px;background:#f07878"></div>
<div class="rp" style="left:177px;top:75px;width:44px;height:1px;background:#a01414"></div>
<div class="rp" style="left:177px;top:76px;width:44px;height:1px;background:#f07878"></div>
<div class="rp" style="left:60px;top:52px;width:111px;height:22px;background:#fff;border:1px solid #a3acb9"></div>
<div class="sbtn" style="left:61px"></div>
<div class="sbtn" style="left:150px"></div>
<div class="rp" style="left:81px;top:53px;width:1px;height:20px;background:#a3acb9"></div>
<div class="rp" style="left:149px;top:53px;width:1px;height:20px;background:#a3acb9"></div>
<div class="rp" style="left:68px;top:61px;width:0;height:0;border-left:3px solid transparent;border-right:3px solid transparent;border-top:3px solid #4a5cc0"></div>
<div class="rp" style="left:157px;top:60px;width:0;height:0;border-left:3px solid transparent;border-right:3px solid transparent;border-bottom:3px solid #4a5cc0"></div>
<div class="abs" id="lot" style="left:122px;top:56.5px;font-size:12px;color:#000">0.01</div>
<div class="w" id="sell" style="left:18px;top:57.6px;font-size:12px;letter-spacing:-0.9px">SELL</div>
<div class="w" id="buy" style="left:186.5px;top:57.6px;font-size:12px;letter-spacing:-0.9px">BUY</div>
<div class="w" id="s131" style="left:25.8px;top:97.2px;font-size:12.6px;font-weight:bold">1.31</div>
<div class="w" id="b131" style="left:136.3px;top:97.2px;font-size:12.6px;font-weight:bold">1.31</div>
<div class="w big" id="s96" style="left:53.4px;top:78px">96</div>
<div class="w big" id="b98" style="left:164.6px;top:78px">98</div>
<div class="w" id="s2" style="left:93px;top:80.6px;font-size:12.5px;font-weight:bold">2</div>
<div class="w" id="b4" style="left:203.6px;top:80.6px;font-size:12.5px;font-weight:bold">4</div>
<div class="abs" style="left:0;top:618px;width:1195px;height:1px;background:#e4e4e4"></div>
<div class="abs" style="left:0;top:619px;width:1195px;height:1px;background:#fafafa"></div>
<div class="abs" style="left:0;top:620px;width:1195px;height:1px;background:#000"></div>
<div class="abs" style="left:0;top:621px;width:1195px;height:19px;background:#f0f0f0"></div>
<div class="abs" style="left:0;top:640px;width:1195px;height:1px;background:#fff"></div>
<div class="abs" style="left:0;top:641px;width:1195px;height:2px;background:#f0f0f0"></div>
<div class="abs" style="left:0;top:643px;width:1195px;height:1px;background:#f6f6f6"></div>
<div class="abs" style="left:0;top:644px;width:1195px;height:1px;background:#a0a0a0"></div>
<div class="abs" style="left:314px;top:639px;width:103px;height:1px;background:#cfcfcf"></div>
<div class="abs" style="left:416px;top:622px;width:1px;height:18px;background:#c4c4c4"></div>
<div class="abs" style="left:312px;top:620px;width:104px;height:19px;background:#fff;border:1px solid #000;border-top:none;box-sizing:border-box"></div>
<div class="tab" id="x47" style="left:16.3px;top:625px;letter-spacing:0.206px;">EURUSD,Daily</div>
<div class="tab" id="x48" style="left:119px;top:625px;letter-spacing:0.406px;">AUDUSD,Daily</div>
<div class="tab" id="x49" style="left:222.4px;top:625px;letter-spacing:0.269px;">USDCHF,Daily</div>
<div class="tab" id="x50" style="left:427.1px;top:625px;letter-spacing:0.553px;">USDCNH,Weekly</div>
<div class="tab" id="x51" style="left:547.6px;top:625px;letter-spacing:0.282px;">USDJPY,Weekly</div>
<div class="tab" id="x52" style="left:658.6px;top:625px;letter-spacing:0.361px;">XAUUSD,H4</div>
<div class="tab" id="x53" style="left:752.2px;top:625px;letter-spacing:0.215px;">GBPUSD,Daily</div>
<div class="tab" id="x54" style="left:856.2px;top:625px;letter-spacing:0.411px;">SP500,M15</div>
<div class="tab" id="x55" style="left:944px;top:625px;letter-spacing:0.157px;">GBPUSD,H1</div>
<div class="tab" id="x56" style="left:1034.6px;top:625px;letter-spacing:0.177px;">DJ30,H4</div>
<div class="tab" id="x57" style="left:1102.4px;top:625px;letter-spacing:0.012px;">TECH100,H</div>
<div class="tab" id="x58" style="left:323.2px;top:625px;letter-spacing:0.311px;color:#000;">USDCAD,Daily</div>
<div class="sep" style="left:108px"></div>
<div class="sep" style="left:212px"></div>
<div class="sep" style="left:536px"></div>
<div class="sep" style="left:648px"></div>
<div class="sep" style="left:741px"></div>
<div class="sep" style="left:844px"></div>
<div class="sep" style="left:932px"></div>
<div class="sep" style="left:1024px"></div>
<div class="sep" style="left:1093px"></div>
<div class="abs" style="left:1164px;top:621px;width:31px;height:20px;background:#f0f0f0"></div>
<div class="abs" style="left:1169px;top:626px;width:0;height:0;border-top:3.5px solid transparent;border-bottom:3.5px solid transparent;border-right:4px solid #a0a0a0"></div>
<div class="abs" style="left:1187px;top:626px;width:0;height:0;border-top:3.5px solid transparent;border-bottom:3.5px solid transparent;border-left:4px solid #000"></div>
</body></html>
